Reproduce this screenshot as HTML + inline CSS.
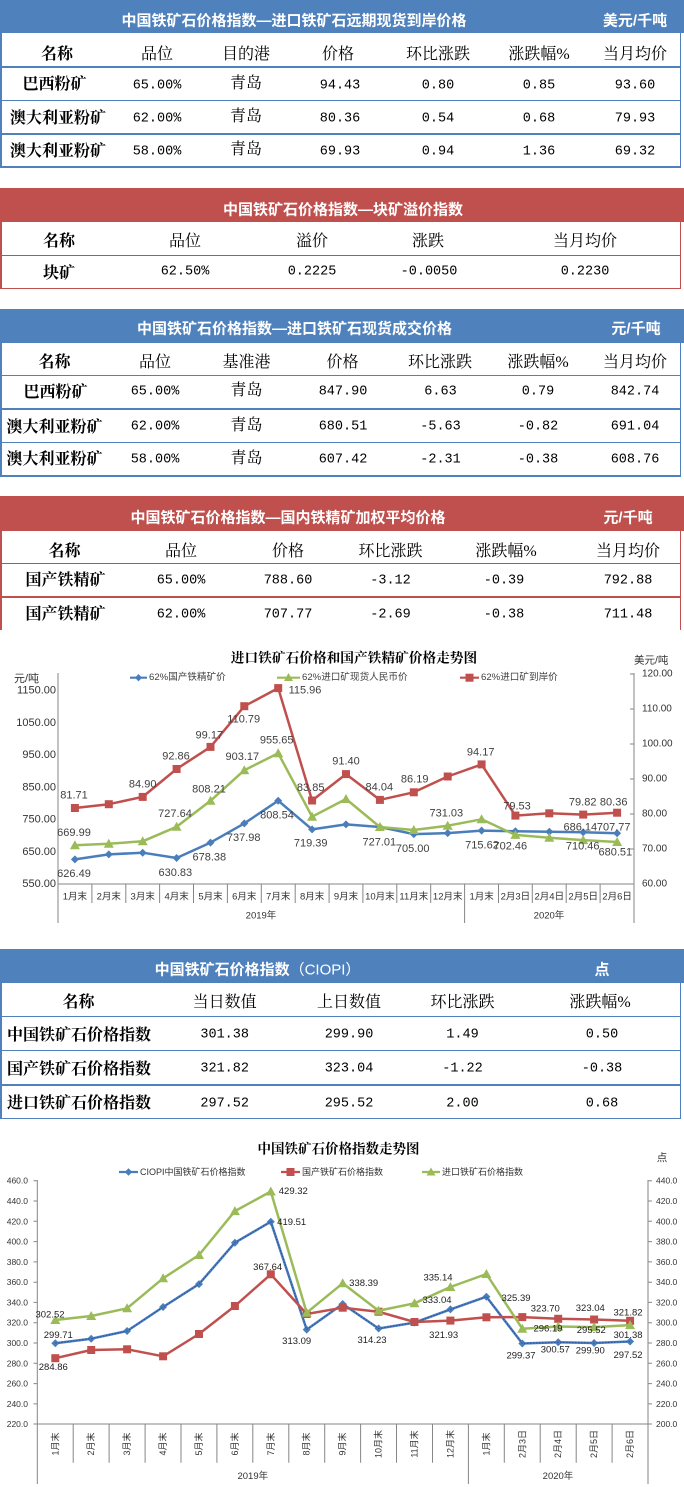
<!DOCTYPE html>
<html><head><meta charset="utf-8">
<style>
html,body{margin:0;padding:0;background:#fff;}
body{width:684px;height:1487px;position:relative;overflow:hidden;}
.t{position:absolute;transform:translate(-50%,-50%);white-space:nowrap;line-height:1;}
.h{color:#fff;font-family:"Liberation Sans","Noto Sans CJK SC",sans-serif;font-weight:bold;font-size:15px;}
.b{font-family:"Liberation Serif","Noto Serif CJK SC",serif;font-weight:bold;font-size:16px;color:#000;}
.n{font-family:"Liberation Serif","Noto Serif CJK SC",serif;font-size:16px;color:#000;}
.m{font-family:"Liberation Mono",monospace;font-size:13.5px;color:#000;}
.hb{position:absolute;left:0;width:684px;}
.ln{position:absolute;height:1.6px;left:0;width:681px;}
.vl{position:absolute;width:1.6px;}
.blue{background:#4f81bd;}
.red{background:#c0504d;}
</style></head><body>

<!-- Table 1 -->
<div class="hb blue" style="top:0;height:33px"></div>
<div class="vl blue" style="left:0;top:33px;height:134px"></div>
<div class="vl blue" style="left:679.5px;top:33px;height:134px"></div>
<div class="ln blue" style="top:66px"></div>
<div class="ln blue" style="top:99.5px"></div>
<div class="ln blue" style="top:133px"></div>
<div class="ln blue" style="top:166px"></div>
<div class="t h" style="left:294px;top:20.5px">中国铁矿石价格指数—进口铁矿石远期现货到岸价格</div>
<div class="t h" style="left:635px;top:20.5px">美元/千吨</div>
<div class="t b" style="left:57px;top:55px">名称</div>
<div class="t n" style="left:157px;top:55px">品位</div>
<div class="t n" style="left:246px;top:55px">目的港</div>
<div class="t n" style="left:338px;top:55px">价格</div>
<div class="t n" style="left:438px;top:55px">环比涨跌</div>
<div class="t n" style="left:539px;top:55px">涨跌幅%</div>
<div class="t n" style="left:635px;top:55px">当月均价</div>

<div class="t b" style="left:54.5px;top:85px">巴西粉矿</div>
<div class="t m" style="left:157px;top:85.5px">65.00%</div>
<div class="t n" style="left:246px;top:84px">青岛</div>
<div class="t m" style="left:340px;top:85.5px">94.43</div>
<div class="t m" style="left:438px;top:85.5px">0.80</div>
<div class="t m" style="left:539px;top:85.5px">0.85</div>
<div class="t m" style="left:635px;top:85.5px">93.60</div>

<div class="t b" style="left:58px;top:118.5px">澳大利亚粉矿</div>
<div class="t m" style="left:157px;top:118.5px">62.00%</div>
<div class="t n" style="left:246px;top:117px">青岛</div>
<div class="t m" style="left:340px;top:118.5px">80.36</div>
<div class="t m" style="left:438px;top:118.5px">0.54</div>
<div class="t m" style="left:539px;top:118.5px">0.68</div>
<div class="t m" style="left:635px;top:118.5px">79.93</div>

<div class="t b" style="left:58px;top:151.5px">澳大利亚粉矿</div>
<div class="t m" style="left:157px;top:151.5px">58.00%</div>
<div class="t n" style="left:246px;top:150px">青岛</div>
<div class="t m" style="left:340px;top:151.5px">69.93</div>
<div class="t m" style="left:438px;top:151.5px">0.94</div>
<div class="t m" style="left:539px;top:151.5px">1.36</div>
<div class="t m" style="left:635px;top:151.5px">69.32</div>

<!-- Table 2 -->
<div class="hb red" style="top:188px;height:34px"></div>
<div class="vl red" style="left:0;top:222px;height:67px"></div>
<div class="vl red" style="left:679.5px;top:222px;height:67px"></div>
<div class="ln red" style="top:254.5px"></div>
<div class="ln red" style="top:287.5px"></div>
<div class="t h" style="left:343px;top:209.5px">中国铁矿石价格指数—块矿溢价指数</div>
<div class="t b" style="left:59px;top:242px">名称</div>
<div class="t n" style="left:185px;top:242px">品位</div>
<div class="t n" style="left:312px;top:242px">溢价</div>
<div class="t n" style="left:428px;top:242px">涨跌</div>
<div class="t n" style="left:585px;top:242px">当月均价</div>
<div class="t b" style="left:59px;top:273.5px">块矿</div>
<div class="t m" style="left:185px;top:272px">62.50%</div>
<div class="t m" style="left:312px;top:272px">0.2225</div>
<div class="t m" style="left:429px;top:272px">-0.0050</div>
<div class="t m" style="left:585px;top:272px">0.2230</div>

<!-- Table 3 -->
<div class="hb blue" style="top:309px;height:34px"></div>
<div class="vl blue" style="left:0;top:343px;height:134px"></div>
<div class="vl blue" style="left:679.5px;top:343px;height:134px"></div>
<div class="ln blue" style="top:374.5px"></div>
<div class="ln blue" style="top:408px"></div>
<div class="ln blue" style="top:441.5px"></div>
<div class="ln blue" style="top:475px"></div>
<div class="t h" style="left:294.5px;top:329px">中国铁矿石价格指数—进口铁矿石现货成交价格</div>
<div class="t h" style="left:636px;top:329px">元/千吨</div>
<div class="t b" style="left:54.5px;top:362.5px">名称</div>
<div class="t n" style="left:155px;top:362.5px">品位</div>
<div class="t n" style="left:246.5px;top:362.5px">基准港</div>
<div class="t n" style="left:342.5px;top:362.5px">价格</div>
<div class="t n" style="left:440px;top:362.5px">环比涨跌</div>
<div class="t n" style="left:538px;top:362.5px">涨跌幅%</div>
<div class="t n" style="left:635px;top:362.5px">当月均价</div>

<div class="t b" style="left:55.5px;top:393px">巴西粉矿</div>
<div class="t m" style="left:155px;top:392px">65.00%</div>
<div class="t n" style="left:246.5px;top:391px">青岛</div>
<div class="t m" style="left:343px;top:392px">847.90</div>
<div class="t m" style="left:440.5px;top:392px">6.63</div>
<div class="t m" style="left:538px;top:392px">0.79</div>
<div class="t m" style="left:635px;top:392px">842.74</div>

<div class="t b" style="left:54.5px;top:428px">澳大利亚粉矿</div>
<div class="t m" style="left:155px;top:427px">62.00%</div>
<div class="t n" style="left:246.5px;top:426px">青岛</div>
<div class="t m" style="left:343px;top:427px">680.51</div>
<div class="t m" style="left:440.5px;top:427px">-5.63</div>
<div class="t m" style="left:538px;top:427px">-0.82</div>
<div class="t m" style="left:635px;top:427px">691.04</div>

<div class="t b" style="left:54.5px;top:460px">澳大利亚粉矿</div>
<div class="t m" style="left:155px;top:459.5px">58.00%</div>
<div class="t n" style="left:246.5px;top:458.5px">青岛</div>
<div class="t m" style="left:343px;top:459.5px">607.42</div>
<div class="t m" style="left:440.5px;top:459.5px">-2.31</div>
<div class="t m" style="left:538px;top:459.5px">-0.38</div>
<div class="t m" style="left:635px;top:459.5px">608.76</div>

<!-- Table 4 -->
<div class="hb red" style="top:496px;height:35px"></div>
<div class="vl red" style="left:0;top:531px;height:99px"></div>
<div class="vl red" style="left:679.5px;top:531px;height:99px"></div>
<div class="ln red" style="top:562.5px"></div>
<div class="ln red" style="top:596px"></div>
<div class="t h" style="left:288px;top:518px">中国铁矿石价格指数—国内铁精矿加权平均价格</div>
<div class="t h" style="left:628px;top:518px">元/千吨</div>
<div class="t b" style="left:64.5px;top:551.5px">名称</div>
<div class="t n" style="left:181px;top:551.5px">品位</div>
<div class="t n" style="left:288px;top:551.5px">价格</div>
<div class="t n" style="left:390.5px;top:551.5px">环比涨跌</div>
<div class="t n" style="left:506px;top:551.5px">涨跌幅%</div>
<div class="t n" style="left:628px;top:551.5px">当月均价</div>

<div class="t b" style="left:65.5px;top:581px">国产铁精矿</div>
<div class="t m" style="left:181px;top:581px">65.00%</div>
<div class="t m" style="left:288px;top:581px">788.60</div>
<div class="t m" style="left:390.5px;top:581px">-3.12</div>
<div class="t m" style="left:504px;top:581px">-0.39</div>
<div class="t m" style="left:628px;top:581px">792.88</div>

<div class="t b" style="left:65.5px;top:615px">国产铁精矿</div>
<div class="t m" style="left:181px;top:615px">62.00%</div>
<div class="t m" style="left:288px;top:615px">707.77</div>
<div class="t m" style="left:390.5px;top:615px">-2.69</div>
<div class="t m" style="left:504px;top:615px">-0.38</div>
<div class="t m" style="left:628px;top:615px">711.48</div>

<!-- Chart 1 -->
<svg style="position:absolute;left:0;top:630px" width="684" height="300" viewBox="0 630 684 300" xmlns="http://www.w3.org/2000/svg">
<defs>
<marker id="sq" markerWidth="10" markerHeight="10" refX="5" refY="5" markerUnits="userSpaceOnUse"><rect x="1" y="1" width="8" height="8" fill="#c0504d"/></marker>
<marker id="tri" markerWidth="12" markerHeight="12" refX="6" refY="6.5" markerUnits="userSpaceOnUse"><path d="M6 1.5 L11 10.5 L1 10.5 Z" fill="#9bbb59"/></marker>
<marker id="dia" markerWidth="9" markerHeight="9" refX="4.5" refY="4.5" markerUnits="userSpaceOnUse"><path d="M4.5 0.5 L8.5 4.5 L4.5 8.5 L0.5 4.5 Z" fill="#4a7ebb"/></marker>
</defs>
<g font-family="'Liberation Sans','Noto Sans CJK SC',sans-serif">
<text x="354" y="658" font-family="'Liberation Serif','Noto Serif CJK SC',serif" font-weight="bold" font-size="13.7" text-anchor="middle" dominant-baseline="central" fill="#000">进口铁矿石价格和国产铁精矿价格走势图</text>
<!-- legend -->
<g font-size="9.6" fill="#404040" dominant-baseline="central">
<polyline points="130,677.7 147,677.7" stroke="#4a7ebb" stroke-width="2.2" fill="none" marker-mid="url(#dia)"/>
<path d="M138.5 674 L142 677.7 L138.5 681.4 L135 677.7 Z" fill="#4a7ebb"/>
<text x="149" y="677.7">62%国产铁精矿价</text>
<line x1="277" y1="677.7" x2="300" y2="677.7" stroke="#9bbb59" stroke-width="2.2"/>
<path d="M288.5 673 L293 681 L284 681 Z" fill="#9bbb59"/>
<text x="302" y="677.7">62%进口矿现货人民币价</text>
<line x1="460" y1="677.7" x2="479" y2="677.7" stroke="#c0504d" stroke-width="2.2"/>
<rect x="465.5" y="673.7" width="8" height="8" fill="#c0504d"/>
<text x="481" y="677.7">62%进口矿到岸价</text>
</g>
<text x="14" y="679" font-size="11" fill="#333" dominant-baseline="central">元/吨</text>
<text x="634" y="660.5" font-size="10.5" fill="#333" dominant-baseline="central">美元/吨</text>
<!-- axes -->
<g stroke="#868686" stroke-width="1" fill="none">
<line x1="58" y1="673" x2="58" y2="923"/>
<line x1="634" y1="673" x2="634" y2="923"/>
<line x1="58" y1="884" x2="634" y2="884"/>
<line x1="464.6" y1="884" x2="464.6" y2="923"/>
<path d="M91.9 884V903M125.8 884V903M159.6 884V903M193.5 884V903M227.4 884V903M261.3 884V903M295.2 884V903M329.1 884V903M362.9 884V903M396.8 884V903M430.7 884V903M498.5 884V903M532.3 884V903M566.2 884V903M600.1 884V903"/>
<path d="M630 674H634M630 709H634M630 744H634M630 779H634M630 814H634M630 849H634M630 884H634"/>
</g>
<g font-size="11" fill="#333" text-anchor="end" dominant-baseline="central">
<text x="56" y="690.7">1150.00</text>
<text x="56" y="722.9">1050.00</text>
<text x="56" y="755.1">950.00</text>
<text x="56" y="787.3">850.00</text>
<text x="56" y="819.6">750.00</text>
<text x="56" y="851.8">650.00</text>
<text x="56" y="884">550.00</text>
</g>
<g font-size="10" fill="#333" dominant-baseline="central">
<text x="642" y="674">120.00</text>
<text x="642" y="709">110.00</text>
<text x="642" y="744">100.00</text>
<text x="642" y="779">90.00</text>
<text x="642" y="814">80.00</text>
<text x="642" y="849">70.00</text>
<text x="642" y="884">60.00</text>
</g>
<g font-size="9.5" fill="#333" text-anchor="middle" dominant-baseline="central">
<text x="74.9" y="897">1月末</text><text x="108.8" y="897">2月末</text><text x="142.7" y="897">3月末</text><text x="176.6" y="897">4月末</text><text x="210.5" y="897">5月末</text><text x="244.3" y="897">6月末</text><text x="278.2" y="897">7月末</text><text x="312.1" y="897">8月末</text><text x="346.0" y="897">9月末</text><text x="379.9" y="897">10月末</text><text x="413.8" y="897">11月末</text><text x="447.7" y="897">12月末</text><text x="481.6" y="897">1月末</text><text x="515.4" y="897">2月3日</text><text x="549.3" y="897">2月4日</text><text x="583.2" y="897">2月5日</text><text x="617.1" y="897">2月6日</text>
<text x="261" y="916">2019年</text><text x="549" y="916">2020年</text>
</g>
<!-- series -->
<polyline fill="none" stroke="#4a7ebb" stroke-width="2.5" stroke-linejoin="round" marker-start="url(#dia)" marker-mid="url(#dia)" marker-end="url(#dia)" points="74.9,859.4 108.8,854.4 142.7,852.7 176.6,858.0 210.5,842.6 244.3,823.4 278.2,800.7 312.1,829.4 346.0,824.4 379.9,827.0 413.8,834.1 447.7,833.1 481.6,830.6 515.4,831.2 549.3,831.8 583.2,832.3 617.1,833.2"/>
<polyline fill="none" stroke="#9bbb59" stroke-width="2.5" stroke-linejoin="round" marker-start="url(#tri)" marker-mid="url(#tri)" marker-end="url(#tri)" points="74.9,845.3 108.8,843.7 142.7,841.3 176.6,826.8 210.5,800.8 244.3,770.2 278.2,753.3 312.1,816.7 346.0,799.0 379.9,827.0 413.8,830.0 447.7,825.7 481.6,819.3 515.4,834.9 549.3,837.7 583.2,840.1 617.1,842.0"/>
<polyline fill="none" stroke="#c0504d" stroke-width="2.5" stroke-linejoin="round" marker-start="url(#sq)" marker-mid="url(#sq)" marker-end="url(#sq)" points="74.9,808.0 108.8,804.2 142.7,796.9 176.6,769.0 210.5,746.9 244.3,706.2 278.2,688.1 312.1,800.5 346.0,774.1 379.9,799.9 413.8,792.3 447.7,776.5 481.6,764.4 515.4,815.6 549.3,813.3 583.2,814.6 617.1,812.7"/>
<!-- data labels -->
<g font-size="11" fill="#404040" text-anchor="middle" dominant-baseline="central">
<text x="74" y="795.7">81.71</text>
<text x="142.7" y="784.3">84.90</text>
<text x="176" y="756.7">92.86</text>
<text x="209.3" y="735.3">99.17</text>
<text x="243.7" y="719.3">110.79</text>
<text x="305" y="690.7">115.96</text>
<text x="276.7" y="740.7">955.65</text>
<text x="242.3" y="757">903.17</text>
<text x="209" y="789.3">808.21</text>
<text x="175" y="814">727.64</text>
<text x="74" y="833">669.99</text>
<text x="74" y="874">626.49</text>
<text x="175.3" y="873">630.83</text>
<text x="209.3" y="857.7">678.38</text>
<text x="243.7" y="838">737.98</text>
<text x="277" y="815.3">808.54</text>
<text x="310.7" y="843.3">719.39</text>
<text x="310.7" y="788">83.85</text>
<text x="346" y="761.7">91.40</text>
<text x="379.3" y="787.3">84.04</text>
<text x="414.7" y="779.3">86.19</text>
<text x="446.3" y="813.3">731.03</text>
<text x="480.7" y="752.3">94.17</text>
<text x="379.3" y="842.3">727.01</text>
<text x="412.7" y="849">705.00</text>
<text x="482" y="845.7">715.62</text>
<text x="510.3" y="846.7">702.46</text>
<text x="517" y="806.7">79.53</text>
<text x="582.7" y="802.7">79.82</text>
<text x="613.7" y="802.7">80.36</text>
<text x="580.3" y="827.7">686.14</text>
<text x="613.7" y="827.7">707.77</text>
<text x="582.7" y="846.7">710.46</text>
<text x="615.3" y="852.3">680.51</text>
</g>
</g>
</svg>

<!-- Table 5 -->
<div class="hb blue" style="top:949px;height:34px"></div>
<div class="vl blue" style="left:0;top:983px;height:136px"></div>
<div class="vl blue" style="left:679.5px;top:983px;height:136px"></div>
<div class="ln blue" style="top:1015.5px"></div>
<div class="ln blue" style="top:1049.5px"></div>
<div class="ln blue" style="top:1084px"></div>
<div class="ln blue" style="top:1117.5px"></div>
<div class="t h" style="left:257.5px;top:969.5px">中国铁矿石价格指数<span style="font-weight:normal">（CIOPI）</span></div>
<div class="t h" style="left:602px;top:969.5px">点</div>
<div class="t b" style="left:78.5px;top:1002.5px">名称</div>
<div class="t n" style="left:224.7px;top:1002.5px">当日数值</div>
<div class="t n" style="left:349px;top:1002.5px">上日数值</div>
<div class="t n" style="left:462.5px;top:1002.5px">环比涨跌</div>
<div class="t n" style="left:600px;top:1002.5px">涨跌幅%</div>

<div class="t b" style="left:79px;top:1035.5px">中国铁矿石价格指数</div>
<div class="t m" style="left:224.7px;top:1035px">301.38</div>
<div class="t m" style="left:349px;top:1035px">299.90</div>
<div class="t m" style="left:462.5px;top:1035px">1.49</div>
<div class="t m" style="left:602px;top:1035px">0.50</div>

<div class="t b" style="left:79px;top:1070px">国产铁矿石价格指数</div>
<div class="t m" style="left:224.7px;top:1069px">321.82</div>
<div class="t m" style="left:349px;top:1069px">323.04</div>
<div class="t m" style="left:462.5px;top:1069px">-1.22</div>
<div class="t m" style="left:602px;top:1069px">-0.38</div>

<div class="t b" style="left:79px;top:1104px">进口铁矿石价格指数</div>
<div class="t m" style="left:224.7px;top:1103.5px">297.52</div>
<div class="t m" style="left:349px;top:1103.5px">295.52</div>
<div class="t m" style="left:462.5px;top:1103.5px">2.00</div>
<div class="t m" style="left:602px;top:1103.5px">0.68</div>

<!-- Chart 2 -->
<svg style="position:absolute;left:0;top:1130px" width="684" height="357" viewBox="0 1130 684 357" xmlns="http://www.w3.org/2000/svg">
<defs>
<marker id="sq2" markerWidth="10" markerHeight="10" refX="5" refY="5" markerUnits="userSpaceOnUse"><rect x="1" y="1" width="8" height="8" fill="#c0504d"/></marker>
<marker id="tri2" markerWidth="12" markerHeight="12" refX="6" refY="6.5" markerUnits="userSpaceOnUse"><path d="M6 1.5 L11 10.5 L1 10.5 Z" fill="#9bbb59"/></marker>
<marker id="dia2" markerWidth="9" markerHeight="9" refX="4.5" refY="4.5" markerUnits="userSpaceOnUse"><path d="M4.5 0.5 L8.5 4.5 L4.5 8.5 L0.5 4.5 Z" fill="#4a7ebb"/></marker>
</defs>
<g font-family="'Liberation Sans','Noto Sans CJK SC',sans-serif">
<text x="338.5" y="1149" font-family="'Liberation Serif','Noto Serif CJK SC',serif" font-weight="bold" font-size="13.5" text-anchor="middle" dominant-baseline="central" fill="#000">中国铁矿石价格指数走势图</text>
<g font-size="9" fill="#333" dominant-baseline="central">
<line x1="119" y1="1172" x2="138" y2="1172" stroke="#4a7ebb" stroke-width="2.2"/>
<path d="M128.5 1168.3 L132.2 1172 L128.5 1175.7 L124.8 1172 Z" fill="#4a7ebb"/>
<text x="140" y="1172">CIOPI中国铁矿石价格指数</text>
<line x1="281" y1="1172" x2="300" y2="1172" stroke="#c0504d" stroke-width="2.2"/>
<rect x="286.5" y="1168" width="8" height="8" fill="#c0504d"/>
<text x="302" y="1172">国产铁矿石价格指数</text>
<line x1="422" y1="1172" x2="440" y2="1172" stroke="#9bbb59" stroke-width="2.2"/>
<path d="M431 1167.5 L435.5 1175.5 L426.5 1175.5 Z" fill="#9bbb59"/>
<text x="442" y="1172">进口铁矿石价格指数</text>
</g>
<text x="662" y="1158" font-size="10.5" fill="#333" text-anchor="middle" dominant-baseline="central">点</text>
<g stroke="#868686" stroke-width="1" fill="none">
<line x1="37.3" y1="1180" x2="37.3" y2="1484"/>
<line x1="648" y1="1180" x2="648" y2="1484"/>
<line x1="37.3" y1="1424" x2="648" y2="1424"/>
<line x1="468.4" y1="1424" x2="468.4" y2="1484"/>
<path d="M73.2 1424V1462.7M109.1 1424V1462.7M145.1 1424V1462.7M181 1424V1462.7M216.9 1424V1462.7M252.8 1424V1462.7M288.8 1424V1462.7M324.7 1424V1462.7M360.6 1424V1462.7M396.5 1424V1462.7M432.5 1424V1462.7M504.3 1424V1462.7M540.2 1424V1462.7M576.2 1424V1462.7M612.1 1424V1462.7"/>
<path d="M33.5 1180.7H37.3M33.5 1201H37.3M33.5 1221.3H37.3M33.5 1241.6H37.3M33.5 1261.9H37.3M33.5 1282.2H37.3M33.5 1302.4H37.3M33.5 1322.7H37.3M33.5 1343H37.3M33.5 1363.3H37.3M33.5 1383.6H37.3M33.5 1403.9H37.3M33.5 1424H37.3"/>
<path d="M648 1180.7H652M648 1201H652M648 1221.3H652M648 1241.6H652M648 1261.9H652M648 1282.2H652M648 1302.4H652M648 1322.7H652M648 1343H652M648 1363.3H652M648 1383.6H652M648 1403.9H652M648 1424H652"/>
</g>
<g font-size="8.5" fill="#333" text-anchor="end" dominant-baseline="central">
<text x="28" y="1180.7">460.0</text><text x="28" y="1201">440.0</text><text x="28" y="1221.3">420.0</text><text x="28" y="1241.6">400.0</text><text x="28" y="1261.9">380.0</text><text x="28" y="1282.2">360.0</text><text x="28" y="1302.4">340.0</text><text x="28" y="1322.7">320.0</text><text x="28" y="1343">300.0</text><text x="28" y="1363.3">280.0</text><text x="28" y="1383.6">260.0</text><text x="28" y="1403.9">240.0</text><text x="28" y="1424">220.0</text>
</g>
<g font-size="8.5" fill="#333" dominant-baseline="central">
<text x="656" y="1180.7">440.0</text><text x="656" y="1201">420.0</text><text x="656" y="1221.3">400.0</text><text x="656" y="1241.6">380.0</text><text x="656" y="1261.9">360.0</text><text x="656" y="1282.2">340.0</text><text x="656" y="1302.4">320.0</text><text x="656" y="1322.7">300.0</text><text x="656" y="1343">280.0</text><text x="656" y="1363.3">260.0</text><text x="656" y="1383.6">240.0</text><text x="656" y="1403.9">220.0</text><text x="656" y="1424">200.0</text>
</g>
<g font-size="9" fill="#333" text-anchor="middle" dominant-baseline="central">
<text transform="translate(55.3,1444) rotate(-90)">1月末</text>
<text transform="translate(91.2,1444) rotate(-90)">2月末</text>
<text transform="translate(127.1,1444) rotate(-90)">3月末</text>
<text transform="translate(163.1,1444) rotate(-90)">4月末</text>
<text transform="translate(199,1444) rotate(-90)">5月末</text>
<text transform="translate(234.9,1444) rotate(-90)">6月末</text>
<text transform="translate(270.8,1444) rotate(-90)">7月末</text>
<text transform="translate(306.7,1444) rotate(-90)">8月末</text>
<text transform="translate(342.7,1444) rotate(-90)">9月末</text>
<text transform="translate(378.6,1444) rotate(-90)">10月末</text>
<text transform="translate(414.5,1444) rotate(-90)">11月末</text>
<text transform="translate(450.4,1444) rotate(-90)">12月末</text>
<text transform="translate(486.4,1444) rotate(-90)">1月末</text>
<text transform="translate(522.3,1444) rotate(-90)">2月3日</text>
<text transform="translate(558.2,1444) rotate(-90)">2月4日</text>
<text transform="translate(594.1,1444) rotate(-90)">2月5日</text>
<text transform="translate(630.1,1444) rotate(-90)">2月6日</text>
<text x="252.8" y="1476.7" font-size="9.5">2019年</text>
<text x="558" y="1476.7" font-size="9.5">2020年</text>
</g>
<polyline fill="none" stroke="#4a7ebb" stroke-width="2.5" stroke-linejoin="round" marker-start="url(#dia2)" marker-mid="url(#dia2)" marker-end="url(#dia2)" points="55.3,1343.2 91.2,1338.7 127.1,1331.0 163.1,1307.0 199.0,1284.1 234.9,1242.7 270.8,1221.7 306.7,1329.6 342.7,1304.0 378.6,1328.5 414.5,1322.6 450.4,1309.4 486.4,1296.7 522.3,1343.5 558.2,1342.3 594.1,1343.0 630.1,1341.5"/>
<polyline fill="none" stroke="#2d4f9e" stroke-width="1" stroke-dasharray="1.5 1.5" points="55.3,1343.2 91.2,1338.7 127.1,1331.0 163.1,1307.0 199.0,1284.1 234.9,1242.7 270.8,1221.7 306.7,1329.6 342.7,1304.0 378.6,1328.5 414.5,1322.6 450.4,1309.4 486.4,1296.7 522.3,1343.5 558.2,1342.3 594.1,1343.0 630.1,1341.5"/>
<polyline fill="none" stroke="#c0504d" stroke-width="2.5" stroke-linejoin="round" marker-start="url(#sq2)" marker-mid="url(#sq2)" marker-end="url(#sq2)" points="55.3,1358.2 91.2,1350.0 127.1,1349.3 163.1,1356.3 199.0,1334.0 234.9,1306.0 270.8,1274.3 306.7,1314.0 342.7,1307.7 378.6,1311.7 414.5,1322.0 450.4,1320.6 486.4,1317.3 522.3,1317.1 558.2,1318.8 594.1,1319.5 630.1,1320.8"/>
<polyline fill="none" stroke="#9bbb59" stroke-width="2.5" stroke-linejoin="round" marker-start="url(#tri2)" marker-mid="url(#tri2)" marker-end="url(#tri2)" points="55.3,1320.0 91.2,1316.0 127.1,1308.3 163.1,1278.3 199.0,1255.0 234.9,1211.1 270.8,1191.5 306.7,1312.7 342.7,1283.3 378.6,1310.7 414.5,1303.3 450.4,1287.0 486.4,1274.0 522.3,1328.7 558.2,1326.5 594.1,1327.1 630.1,1325.1"/>
<g font-size="9.5" fill="#222" text-anchor="middle" dominant-baseline="central">
<text x="50" y="1315">302.52</text>
<text x="58.3" y="1335.7">299.71</text>
<text x="53.3" y="1367.7">284.86</text>
<text x="293.3" y="1191.7">429.32</text>
<text x="291.7" y="1222.3">419.51</text>
<text x="267.7" y="1267.3">367.64</text>
<text x="296.7" y="1341.3">313.09</text>
<text x="363.7" y="1283.7">338.39</text>
<text x="372" y="1340.7">314.23</text>
<text x="438" y="1278">335.14</text>
<text x="437" y="1300.7">333.04</text>
<text x="443.7" y="1335.7">321.93</text>
<text x="516" y="1298.7">325.39</text>
<text x="521" y="1356">299.37</text>
<text x="545.3" y="1309">323.70</text>
<text x="548" y="1329">296.19</text>
<text x="555.3" y="1350">300.57</text>
<text x="590.3" y="1308.3">323.04</text>
<text x="591.3" y="1330.7">295.52</text>
<text x="590.3" y="1351">299.90</text>
<text x="628" y="1313">321.82</text>
<text x="628" y="1335.7">301.38</text>
<text x="628" y="1355.3">297.52</text>
</g>
</g>
</svg>
</body></html>
